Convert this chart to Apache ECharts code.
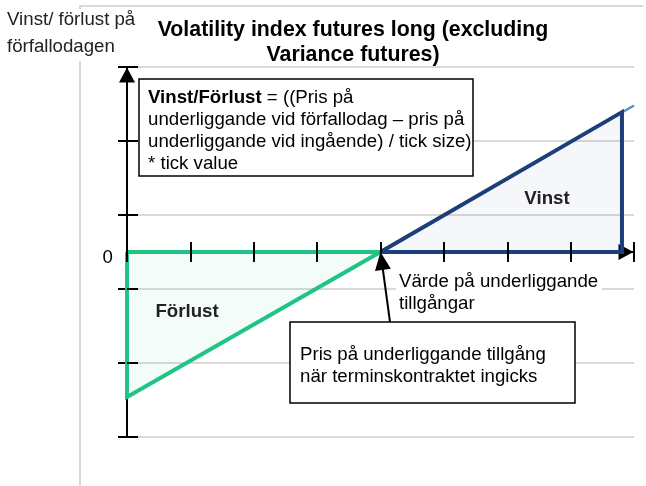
<!DOCTYPE html>
<html><head><meta charset="utf-8">
<script src="https://cdn.jsdelivr.net/npm/echarts@6/dist/echarts.min.js"></script>
<style>html,body{margin:0;padding:0;background:#fff}#c{width:646px;height:486px}</style>
</head><body><div id="c"></div><script>
// ---- data ----
const titleLines = ['Volatility index futures long (excluding', 'Variance futures)'];
const yAxisTitle = ['Vinst/ förlust på', 'förfallodagen'];
const xTickValues = [0, 1, 2, 3, 4, 5, 6, 7, 8];
const yGridValues = [0, 1, 2, 3, 4, 5];
const zeroLabel = '0';
const payoffLine = [[0, -1.96], [8, 1.98]];
const lossTriangle = [[0, 0], [4, 0], [0, -1.96], [0, 0]];
const lossEdge = [[0, -1.96], [4, 0]];
const gainTriangle = [[4, 0], [7.81, 0], [7.81, 1.89], [4, 0]];
const gainEdge = [[4, 0], [7.81, 1.89]];
const strikePointer = [[4.15, -0.946], [4, 0]];
const formulaBold = 'Vinst/Förlust';
const formulaLines = [' = ((Pris på', 'underliggande vid förfallodag – pris på', 'underliggande vid ingående) / tick size)', '* tick value'];
const gainLabel = 'Vinst';
const lossLabel = 'Förlust';
const xAxisTitle = ['Värde på underliggande', 'tillgångar'];
const strikeNote = ['Pris på underliggande tillgång', 'när terminskontraktet ingicks'];

// ---- chart ----
const FF = "'Liberation Sans', Arial, sans-serif";
const FS = 18.67;
const chart = echarts.init(document.getElementById('c'), null, {renderer: 'canvas'});
const xMin = xTickValues[0], xMax = xTickValues[xTickValues.length - 1];
const gMin = yGridValues[0], gMax = yGridValues[yGridValues.length - 1];
const tickX = (inside) => ({
  type: 'value', min: xMin, max: xMax, interval: 1, position: 'bottom', z: 5,
  axisLine: {show: false, onZero: true, onZeroAxisIndex: 0},
  axisTick: {show: true, inside: inside, length: 10, lineStyle: {color: '#000', width: 2}},
  axisLabel: {show: false}, splitLine: {show: false}
});
const option = {
  animation: false,
  backgroundColor: '#fff',
  title: {
    text: titleLines.join('\n'), left: 348, top: 13, textAlign: 'center',
    textStyle: {fontFamily: FF, fontSize: 21.33, fontWeight: 'bold', color: '#000', lineHeight: 24.5}
  },
  grid: {left: 127, right: 12, top: 67, bottom: 49, containLabel: false},
  xAxis: [
    {
      type: 'value', min: xMin, max: xMax, interval: 1, position: 'bottom',
      axisLine: {show: true, onZero: true, onZeroAxisIndex: 0, symbol: ['none', 'triangle'], symbolSize: [16, 15], symbolOffset: [0, -8],
        lineStyle: {color: '#000', width: 2}},
      axisTick: {show: false}, axisLabel: {show: false}, splitLine: {show: false}
    },
    tickX(true), tickX(false)
  ],
  yAxis: [
    {
      type: 'value', min: -2.5, max: 2.5, interval: 2.5, position: 'left',
      axisLine: {show: true, onZero: false, symbol: ['none', 'triangle'], symbolSize: [16, 15], symbolOffset: [0, -8],
        lineStyle: {color: '#000', width: 2}},
      axisTick: {show: false}, splitLine: {show: false},
      axisLabel: {show: true, formatter: v => (v === 0 ? zeroLabel : ''), margin: 14, fontSize: FS, fontFamily: FF, color: '#000',
        verticalAlign: 'top', lineHeight: 11}
    },
    {
      type: 'value', min: gMin, max: gMax, interval: 1, position: 'left',
      axisLine: {show: false, onZero: false},
      axisTick: {show: true, length: 9, lineStyle: {color: '#000', width: 2}},
      axisLabel: {show: false},
      splitLine: {show: true, lineStyle: {color: '#d9d9d9', width: 2}}
    },
    {
      type: 'value', min: gMin, max: gMax, interval: 1, position: 'left', z: 5,
      axisLine: {show: false, onZero: false},
      axisTick: {show: true, inside: true, length: 11, lineStyle: {color: '#000', width: 2}},
      axisLabel: {show: false}, splitLine: {show: false}
    }
  ],
  series: [
    {type: 'line', data: lossEdge, showSymbol: false, z: 1, lineStyle: {width: 0},
      areaStyle: {color: 'rgba(32,197,133,0.08)', origin: 'auto'}},
    {type: 'line', data: gainEdge, showSymbol: false, z: 1, lineStyle: {width: 0},
      areaStyle: {color: 'rgba(27,63,120,0.055)', origin: 'auto'}},
    {type: 'line', data: payoffLine, showSymbol: false, z: 2, lineStyle: {color: '#5b8fd6', width: 2.5}},
    {type: 'line', data: lossTriangle, showSymbol: false, z: 3, lineStyle: {color: '#20c585', width: 4, join: 'miter'}},
    {type: 'line', data: gainTriangle, showSymbol: false, z: 3, lineStyle: {color: '#1b3f78', width: 4, join: 'miter'}},
    {type: 'line', data: [], z: 6, showSymbol: false,
      markLine: {silent: true, animation: false, symbol: ['none', 'triangle'], symbolSize: [16, 18], symbolOffset: [0, [0, 9]],
        lineStyle: {color: '#000', width: 2, type: 'solid'}, label: {show: false},
        data: [[{coord: strikePointer[0]}, {coord: strikePointer[1]}]]}}
  ],
  graphic: [
    {type: 'line', z: 0, shape: {x1: 79, y1: 6, x2: 643, y2: 6}, style: {stroke: '#d9d9d9', lineWidth: 2}},
    {type: 'line', z: 0, shape: {x1: 80, y1: 6, x2: 80, y2: 486}, style: {stroke: '#d9d9d9', lineWidth: 2}},
    {type: 'rect', z: 1, shape: {x: 2, y: 9, width: 140, height: 52}, style: {fill: '#fff'}},
    {type: 'text', z: 2, x: 7, y: 7, style: {text: yAxisTitle.join('\n'), fontFamily: FF, fontSize: FS, lineHeight: 26.5, fill: '#222', align: 'left', verticalAlign: 'top'}},
    {type: 'rect', z: 50, shape: {x: 139, y: 79, width: 334, height: 97}, style: {fill: '#fff', stroke: '#000', lineWidth: 1.5}},
    {type: 'text', z: 51, x: 148, y: 86.5, style: {
      text: '{b|' + formulaBold + '}' + formulaLines.join('\n'),
      fontFamily: FF, fontSize: FS, lineHeight: 22, fill: '#000', align: 'left', verticalAlign: 'top',
      rich: {b: {fontFamily: FF, fontSize: FS, fontWeight: 'bold', lineHeight: 22, fill: '#000'}}}},
    {type: 'rect', z: 50, shape: {x: 290, y: 322, width: 285, height: 81}, style: {fill: '#fff', stroke: '#000', lineWidth: 1.5}},
    {type: 'text', z: 51, x: 300, y: 344, style: {text: strikeNote.join('\n'), fontFamily: FF, fontSize: FS, lineHeight: 22, fill: '#000', align: 'left', verticalAlign: 'top'}},
    {type: 'rect', z: 40, shape: {x: 396, y: 273, width: 206, height: 40}, style: {fill: '#fff'}},
    {type: 'text', z: 41, x: 399, y: 271.5, style: {text: xAxisTitle.join('\n'), fontFamily: FF, fontSize: FS, lineHeight: 21.5, fill: '#000', align: 'left', verticalAlign: 'top'}},
    {type: 'text', z: 41, x: 547, y: 199, style: {text: gainLabel, fontFamily: FF, fontSize: FS, fontWeight: 'bold', fill: '#222', align: 'center', verticalAlign: 'middle'}},
    {type: 'text', z: 41, x: 187, y: 311.5, style: {text: lossLabel, fontFamily: FF, fontSize: FS, fontWeight: 'bold', fill: '#222', align: 'center', verticalAlign: 'middle'}}
  ]
};
chart.setOption(option);
</script></body></html>
